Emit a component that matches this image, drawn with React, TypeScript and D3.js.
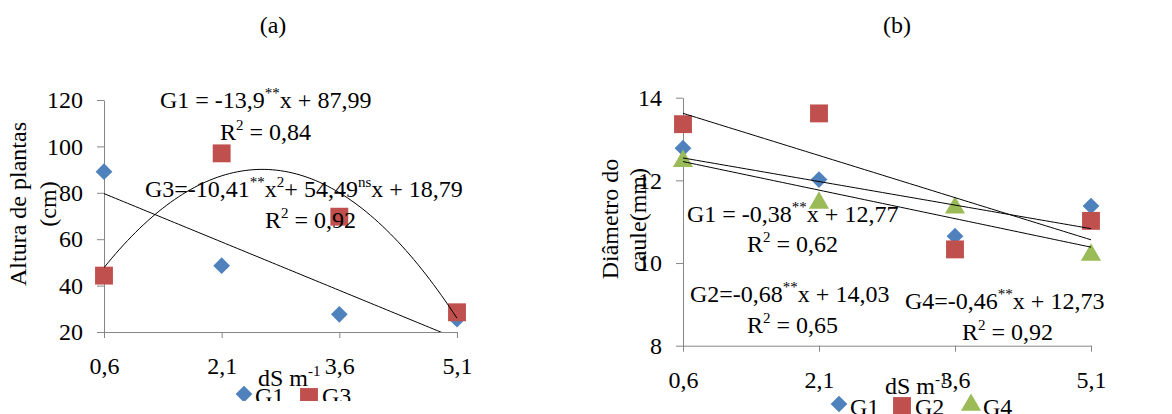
import React, { useEffect, useRef } from 'react';
import * as d3 from 'd3';

// salinity levels (dS m-1)
const doses = [0.6, 2.1, 3.6, 5.1];

// (a) plant height, cm
const alturaG1 = [89.1, 48.6, 27.6, 25.5];
const alturaG3 = [44.3, 97, 69.7, 28.5];
const alturaTicks = [20, 40, 60, 80, 100, 120];
// regression coefficients [a, b, c] -> a*x^2 + b*x + c
const alturaFitG1 = [0, -13.9, 87.99];
const alturaFitG3 = [-10.41, 54.49, 18.79];

// (b) stem diameter, mm
const diamG1 = [12.78, 12.02, 10.65, 11.38];
const diamG2 = [13.36, 13.62, 10.33, 11.02];
const diamG4 = [12.49, 11.48, 11.36, 10.22];
const diamTicks = [8, 10, 12, 14];
const diamFitG1 = [0, -0.38, 12.77];
const diamFitG2 = [0, -0.68, 14.03];
const diamFitG4 = [0, -0.46, 12.73];

const BLUE = '#4F81BD';
const RED = '#C0504D';
const GREEN = '#9BBB59';
const AXIS = '#868686';
const FONT = '"Liberation Serif", "Times New Roman", serif';

type Part = string | [string];

const App = () => {
  const svgRef = useRef<SVGSVGElement>(null);

  useEffect(() => {
    const svg = d3.select(svgRef.current);
    svg.selectAll('*').remove();

    const comma = (d: any) => d3.format('.1f')(d).replace('.', ',');

    const marker = (g: any, kind: string, cx: number, cy: number, color: string) => {
      if (kind === 'diamond') {
        g.append('path')
          .attr('d', d3.symbol(d3.symbolSquare, 140)())
          .attr('transform', `translate(${cx},${cy}) rotate(45)`)
          .attr('fill', color);
      } else if (kind === 'square') {
        g.append('path')
          .attr('d', d3.symbol(d3.symbolSquare, 320)())
          .attr('transform', `translate(${cx},${cy})`)
          .attr('fill', color);
      } else {
        g.append('path')
          .attr('d', d3.symbol(d3.symbolTriangle, 175)())
          .attr('transform', `translate(${cx},${cy + 1})`)
          .attr('fill', color);
      }
    };

    const label = (g: any, x: number, y: number, parts: Part[]) => {
      const t = g.append('text')
        .attr('x', x).attr('y', y)
        .attr('font-family', FONT).attr('font-size', 24).attr('fill', '#000');
      let up = false;
      parts.forEach((p) => {
        if (Array.isArray(p)) {
          t.append('tspan').attr('dy', up ? 0 : -10).attr('font-size', 15).text(p[0]);
          up = true;
        } else {
          t.append('tspan').attr('dy', up ? 10 : 0).text(p);
          up = false;
        }
      });
    };

    const drawPanel = (opt: any) => {
      const g = svg.append('g');
      if (opt.clipBottom) {
        const id = `clip-${opt.id}-all`;
        svg.append('clipPath').attr('id', id)
          .append('rect').attr('x', 0).attr('y', 0).attr('width', 1172).attr('height', opt.clipBottom);
        g.attr('clip-path', `url(#${id})`);
      }

      const x = d3.scaleLinear().domain([0.6, 5.1]).range(opt.xRange);
      const y = d3.scaleLinear().domain(opt.yDomain).range(opt.yRange);

      // y axis
      const ya = g.append('g')
        .attr('transform', `translate(${opt.xRange[0]},0)`)
        .call(d3.axisLeft(y).tickValues(opt.yTicks).tickFormat(d3.format('d'))
          .tickSize(7).tickSizeOuter(0).tickPadding(14));
      // x axis
      const xa = g.append('g')
        .attr('transform', `translate(0,${opt.yRange[0]})`)
        .call(d3.axisBottom(x).tickValues(doses).tickFormat(comma).tickSize(6).tickSizeOuter(0).tickPadding(19));
      [ya, xa].forEach((a) => {
        a.attr('font-family', FONT).attr('font-size', 24);
        a.selectAll('path,line').attr('stroke', AXIS);
        a.selectAll('text').attr('fill', '#000');
      });

      // points
      opt.series.forEach((s: any) => {
        s.values.forEach((v: number, i: number) => marker(g, s.kind, x(doses[i]), y(v), s.color));
      });

      // regression curves
      const clipId = `clip-${opt.id}`;
      svg.append('clipPath').attr('id', clipId)
        .append('rect')
        .attr('x', opt.xRange[0]).attr('y', opt.yRange[1])
        .attr('width', opt.xRange[1] - opt.xRange[0])
        .attr('height', opt.yRange[0] - opt.yRange[1]);
      const xs = d3.range(0.6, 5.1001, 0.05);
      const line = d3.line<number[]>().x((d) => x(d[0])).y((d) => y(d[1]));
      opt.fits.forEach((c: number[]) => {
        g.append('path')
          .datum(xs.map((v) => [v, c[0] * v * v + c[1] * v + c[2]]))
          .attr('d', line)
          .attr('clip-path', `url(#${clipId})`)
          .attr('fill', 'none')
          .attr('stroke', '#000')
          .attr('stroke-width', 1);
      });

      // equations
      opt.notes.forEach((n: any) => label(g, n.x, n.y, n.parts));

      // axis titles
      opt.yTitle.forEach((t: any) => {
        g.append('text')
          .attr('transform', `translate(${t.x},${t.y}) rotate(-90)`)
          .attr('text-anchor', 'middle').attr('dominant-baseline', 'central')
          .attr('font-family', FONT).attr('font-size', 24).text(t.text);
      });
      label(g, opt.xTitle.x, opt.xTitle.y, ['dS m', ['-1']]);

      // panel letter
      g.append('text').attr('x', opt.letter.x).attr('y', opt.letter.y)
        .attr('text-anchor', 'middle').attr('font-family', FONT).attr('font-size', 24)
        .text(opt.letter.text);

      // legend
      opt.legend.forEach((l: any) => {
        marker(g, l.kind, l.mx, l.my, l.color);
        g.append('text').attr('x', l.tx).attr('y', l.ty)
          .attr('font-family', FONT).attr('font-size', 24).text(l.text);
      });
    };

    drawPanel({
      id: 'a',
      clipBottom: 401,
      xRange: [104, 457],
      yDomain: [20, 120],
      yRange: [332, 100],
      yTicks: alturaTicks,
      series: [
        { kind: 'diamond', color: BLUE, values: alturaG1 },
        { kind: 'square', color: RED, values: alturaG3 },
      ],
      fits: [alturaFitG1, alturaFitG3],
      notes: [
        { x: 160, y: 108, parts: ['G1 = -13,9', ['**'], 'x + 87,99'] },
        { x: 220, y: 140, parts: ['R', ['2'], ' = 0,84'] },
        { x: 145, y: 197, parts: ['G3=-10,41', ['**'], 'x', ['2'], '+ 54,49', ['ns'], 'x + 18,79'] },
        { x: 265, y: 228, parts: ['R', ['2'], ' = 0,92'] },
      ],
      yTitle: [
        { x: 18, y: 204, text: 'Altura de plantas' },
        { x: 48, y: 204, text: '(cm)' },
      ],
      xTitle: { x: 258, y: 386 },
      letter: { x: 273, y: 33, text: '(a)' },
      legend: [
        { kind: 'diamond', color: BLUE, mx: 244, my: 394, tx: 255, ty: 404, text: 'G1' },
        { kind: 'square', color: RED, mx: 309, my: 397, tx: 322, ty: 404, text: 'G3' },
      ],
    });

    drawPanel({
      id: 'b',
      xRange: [683, 1091],
      yDomain: [8, 14],
      yRange: [345.7, 97.7],
      yTicks: diamTicks,
      series: [
        { kind: 'diamond', color: BLUE, values: diamG1 },
        { kind: 'square', color: RED, values: diamG2 },
        { kind: 'triangle', color: GREEN, values: diamG4 },
      ],
      fits: [diamFitG1, diamFitG2, diamFitG4],
      notes: [
        { x: 687, y: 222, parts: ['G1 = -0,38', ['**'], 'x + 12,77'] },
        { x: 747, y: 252, parts: ['R', ['2'], ' = 0,62'] },
        { x: 690, y: 302, parts: ['G2=-0,68', ['**'], 'x + 14,03'] },
        { x: 747, y: 333, parts: ['R', ['2'], ' = 0,65'] },
        { x: 905, y: 309, parts: ['G4=-0,46', ['**'], 'x + 12,73'] },
        { x: 962, y: 340, parts: ['R', ['2'], ' = 0,92'] },
      ],
      yTitle: [
        { x: 610, y: 219, text: 'Diâmetro do' },
        { x: 638, y: 220, text: 'caule(mm)' },
      ],
      xTitle: { x: 885, y: 394 },
      letter: { x: 897, y: 33, text: '(b)' },
      legend: [
        { kind: 'diamond', color: BLUE, mx: 839, my: 404, tx: 850, ty: 415, text: 'G1' },
        { kind: 'square', color: RED, mx: 902, my: 406, tx: 915, ty: 415, text: 'G2' },
        { kind: 'triangle', color: GREEN, mx: 971, my: 404, tx: 983, ty: 415, text: 'G4' },
      ],
    });
  }, []);

  return (
    <svg
      ref={svgRef}
      width={1172}
      height={414}
      style={{ position: 'absolute', left: 0, top: 0, background: '#fff' }}
    ></svg>
  );
};

export default App;
